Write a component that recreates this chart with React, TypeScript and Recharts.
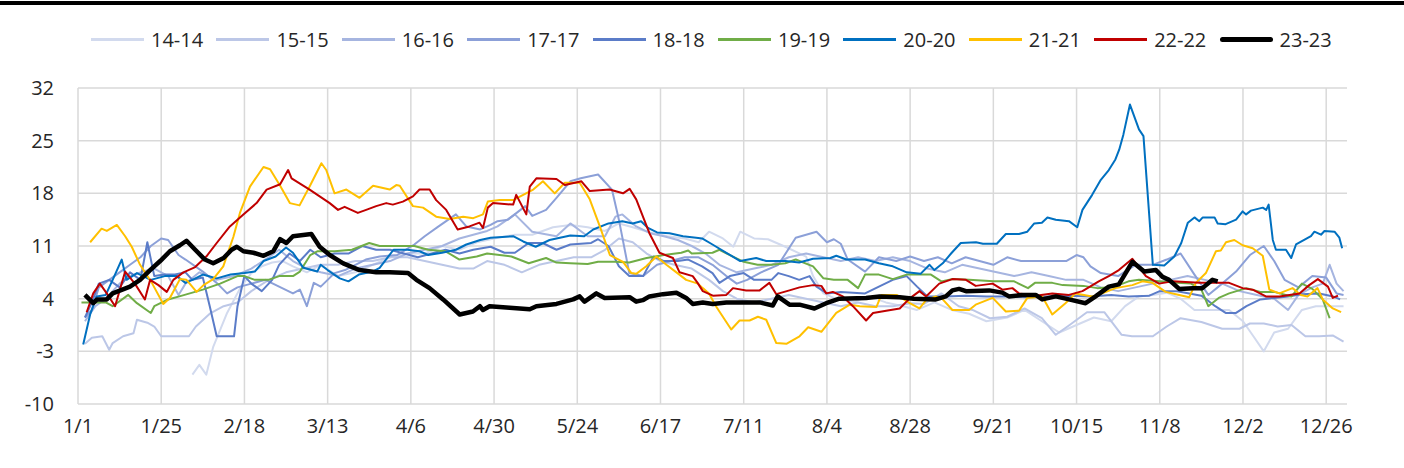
import React from 'react';
import { LineChart, Line, XAxis, YAxis, CartesianGrid } from 'recharts';

// x = day of year (0 = 1/1), y = value
const TICK_DAYS = [0, 24, 48, 72, 96, 120, 144, 168, 192, 216, 240, 264, 288, 312, 336, 360];
const TICK_LABELS = ['1/1', '1/25', '2/18', '3/13', '4/6', '4/30', '5/24', '6/17', '7/11', '8/4', '8/28', '9/21', '10/15', '11/8', '12/2', '12/26'];
const Y_TICKS = [-10, -3, 4, 11, 18, 25, 32];
const X_MAX = 366;

const S14: [number, number][] = [
  [33, -6.1], [35, -4.8], [37, -6.1], [39, -2.4], [43, 2.1], [47, 5.6], [50, 7.4], [53, 8.3], [56, 8.8], [59, 9.0],
  [62, 8.3], [66, 7.5], [70, 8.5], [75, 7.0], [80, 7.5], [85, 8.5], [90, 9.5], [95, 10.0], [100, 10.0], [105, 11.0],
  [110, 10.5], [115, 11.5], [120, 12.0], [126, 12.5], [131, 12.5], [137, 13.5], [142, 13.8], [147, 13.5], [152, 13.0],
  [156, 14.0], [160, 13.5], [165, 12.8], [170, 12.3], [175, 12.0], [179, 11.5], [182, 12.9], [186, 12.0], [189, 10.9],
  [191, 12.9], [195, 12.0], [199, 11.9], [204, 10.9], [210, 9.6], [212, 7.0], [215, 4.7], [219, 3.9], [224, 3.6],
  [228, 4.3], [233, 3.5], [238, 3.0], [242, 2.5], [247, 3.5], [252, 2.5], [257, 2.0], [262, 1.0], [268, 1.5], [273, 2.5],
  [278, 1.0], [283, -0.5], [288, 0.5], [293, 1.5], [298, 1.0], [302, 3.0], [306, 4.3], [310, 4.5], [314, 4.8], [318, 4.0],
  [322, 2.5], [327, 2.5], [332, 2.5], [336, 1.0], [339, -1.0], [342, -3.0], [345, -0.5], [349, 0.0], [353, 2.5],
  [357, 3.0], [361, 3.0], [365, 3.0],
];

const S15: [number, number][] = [
  [2, -2.0], [4, -1.2], [7, -1.0], [9, -2.8], [10, -1.9], [13, -1.0], [16, -0.6], [17, 1.2], [20, 0.8], [22, 0.3],
  [24, -1.0], [28, -1.0], [32, -1.0], [34, 0.3], [38, 2.0], [42, 3.0], [46, 3.5], [50, 5.0], [55, 6.5], [60, 7.5],
  [65, 8.0], [70, 8.5], [75, 8.5], [80, 9.0], [85, 9.0], [90, 9.5], [95, 9.5], [100, 9.0], [105, 8.5], [110, 8.0],
  [114, 8.0], [118, 9.0], [123, 8.5], [128, 7.5], [133, 8.5], [138, 9.0], [143, 9.5], [148, 9.5], [152, 10.5],
  [156, 12.0], [160, 11.5], [164, 10.0], [168, 9.0], [172, 8.5], [177, 8.0], [182, 6.5], [186, 5.0], [190, 4.0],
  [195, 3.5], [200, 4.0], [205, 4.5], [210, 4.0], [215, 3.5], [220, 3.0], [225, 3.5], [230, 3.0], [235, 3.0], [240, 3.4],
  [244, 3.3], [249, 4.7], [254, 3.0], [258, 2.5], [263, 1.4], [268, 1.6], [273, 2.7], [278, 1.4], [282, -0.8], [286, 0.5],
  [291, 2.2], [296, 2.2], [301, -0.8], [304, -1.0], [310, -1.0], [314, 0.3], [318, 1.4], [324, 0.9], [330, 0.0],
  [335, 0.0], [338, 0.7], [342, 0.7], [346, 0.3], [350, 0.5], [354, -1.0], [358, -1.0], [362, -0.9], [365, -1.7],
];

const S16: [number, number][] = [
  [2, 1.0], [5, 3.0], [8, 4.0], [12, 6.0], [15, 7.0], [18, 7.5], [22, 8.0], [26, 7.0], [29, 4.5], [31, 6.0], [35, 7.5],
  [40, 6.5], [45, 7.0], [50, 8.0], [55, 9.5], [58, 10.5], [62, 9.0], [66, 8.0], [70, 7.5], [75, 7.0], [80, 8.0],
  [85, 8.5], [90, 9.0], [95, 10.0], [100, 10.5], [105, 11.0], [110, 12.0], [114, 12.5], [118, 13.0], [121, 13.6],
  [126, 15.2], [131, 12.9], [138, 12.3], [142, 14.0], [147, 12.3], [152, 12.3], [155, 14.9], [157, 15.2], [161, 13.6],
  [165, 12.7], [169, 12.3], [173, 11.8], [177, 11.0], [181, 10.0], [185, 8.5], [190, 7.5], [195, 8.0], [200, 8.5],
  [205, 9.5], [210, 10.0], [215, 9.5], [220, 9.0], [225, 9.5], [230, 9.0], [235, 9.5], [240, 9.0], [245, 8.0],
  [250, 7.5], [255, 8.5], [260, 8.0], [265, 7.5], [270, 7.0], [275, 7.5], [280, 7.0], [285, 6.5], [290, 6.5], [295, 5.5],
  [300, 5.0], [305, 5.5], [310, 6.0], [315, 6.5], [320, 7.0], [325, 6.5], [330, 6.0], [335, 5.0], [340, 4.5], [345, 4.0],
  [349, 2.5], [352, 4.5], [356, 5.5], [359, 6.0], [361, 8.5], [363, 6.0], [365, 5.0],
];

const S17: [number, number][] = [
  [2, 1.5], [4, 2.5], [6, 5.5], [9, 6.5], [12, 7.5], [15, 8.5], [18, 9.5], [21, 11.0], [24, 12.0], [26, 11.8], [29, 9.8],
  [31, 9.2], [36, 7.6], [40, 6.1], [43, 4.7], [46, 5.5], [50, 6.0], [54, 6.5], [58, 5.6], [62, 4.7], [64, 5.2], [66, 3.0],
  [68, 6.1], [70, 5.6], [72, 6.5], [74, 7.4], [77, 7.8], [83, 9.2], [87, 9.6], [92, 9.8], [97, 11.2], [100, 12.3],
  [104, 13.6], [109, 15.2], [112, 13.6], [116, 13.2], [119, 13.8], [121, 14.3], [124, 14.5], [129, 16.3], [131, 15.0],
  [135, 15.8], [138, 17.4], [142, 19.6], [145, 20.0], [148, 20.3], [150, 20.5], [154, 18.5], [156, 14.5], [159, 7.4],
  [163, 7.0], [167, 8.5], [171, 9.0], [175, 9.5], [179, 9.5], [183, 8.5], [187, 7.0], [190, 6.0], [193, 6.5], [197, 7.5],
  [202, 8.5], [207, 12.1], [213, 12.9], [216, 11.5], [218, 11.9], [220, 11.3], [222, 9.2], [227, 7.6], [231, 9.5],
  [236, 9.0], [240, 9.6], [244, 9.0], [248, 9.5], [252, 8.7], [256, 9.5], [260, 9.0], [264, 8.5], [268, 9.5], [272, 9.0],
  [276, 9.0], [280, 9.0], [285, 9.0], [288, 9.8], [290, 9.5], [292, 8.3], [295, 7.4], [300, 7.0], [305, 8.5], [310, 8.5],
  [314, 9.2], [318, 10.0], [322, 7.2], [326, 4.5], [330, 6.0], [334, 7.6], [338, 9.8], [342, 11.0], [345, 9.0],
  [348, 6.5], [352, 5.5], [356, 7.0], [360, 6.8], [363, 4.7], [365, 4.5],
];

const S18: [number, number][] = [
  [2, 1.5], [4, 3.5], [6, 6.0], [9, 6.5], [12, 5.5], [15, 7.5], [18, 6.5], [20, 11.5], [22, 7.0], [25, 7.2], [28, 7.2],
  [31, 7.5], [33, 6.5], [36, 6.8], [38, 3.0], [40, -1.0], [45, -1.0], [46, 3.0], [48, 7.0], [50, 6.0], [53, 5.0],
  [56, 6.5], [58, 8.5], [61, 10.0], [64, 9.0], [67, 10.5], [70, 9.5], [74, 10.0], [78, 10.0], [82, 11.0], [86, 10.5],
  [90, 10.5], [94, 10.0], [98, 9.5], [102, 10.0], [106, 10.5], [110, 10.0], [114, 10.5], [119, 10.9], [123, 10.1],
  [126, 10.1], [130, 11.4], [134, 11.4], [138, 10.5], [142, 11.2], [148, 11.4], [150, 11.9], [153, 11.0], [156, 8.3],
  [159, 7.0], [163, 7.0], [166, 9.6], [169, 9.0], [173, 9.0], [176, 9.2], [180, 8.3], [183, 7.4], [185, 6.1], [188, 7.0],
  [192, 7.4], [195, 6.5], [200, 6.5], [202, 7.4], [205, 7.0], [208, 6.5], [211, 7.0], [213, 5.6], [216, 4.7], [220, 4.9],
  [227, 4.7], [231, 5.6], [235, 6.5], [239, 7.0], [242, 5.6], [245, 4.3], [250, 4.3], [256, 4.4], [262, 4.3], [268, 4.3],
  [274, 4.2], [280, 4.3], [286, 4.4], [292, 4.3], [298, 4.5], [303, 4.3], [309, 4.4], [312, 5.0], [317, 5.0], [324, 4.4],
  [328, 3.0], [331, 2.1], [334, 2.1], [337, 3.0], [341, 3.9], [345, 4.1], [349, 4.3], [353, 4.6], [358, 4.7], [362, 4.3],
  [364, 3.9],
];

const S19: [number, number][] = [
  [1, 3.5], [8, 3.5], [10, 3.0], [14.5, 4.5], [17, 3.4], [21, 2.1], [22, 3.0], [26, 3.9], [30, 4.4], [36, 5.2], [41, 6.0],
  [46, 7.0], [48, 7.0], [51, 6.5], [55, 6.5], [58, 7.0], [62, 7.0], [64, 7.6], [67, 9.8], [69, 10.3], [74, 10.3],
  [79, 10.5], [84, 11.4], [87, 11.0], [91, 11.0], [97, 11.0], [101, 10.5], [106, 10.3], [110, 9.2], [115, 9.6],
  [118, 10.0], [125, 9.6], [130, 8.7], [135, 9.4], [138, 8.8], [142, 8.7], [147, 8.6], [150, 8.9], [155, 8.9], [159, 8.8],
  [164, 9.4], [169, 9.8], [174, 10.1], [176, 10.4], [177, 10.0], [183, 10.1], [185, 10.5], [188, 9.8], [192, 8.9],
  [196, 8.5], [200, 8.5], [204, 8.7], [207, 9.2], [212, 8.3], [215, 6.7], [218, 6.5], [222, 6.5], [225, 5.4], [227, 7.2],
  [231, 7.2], [235, 6.6], [239, 7.2], [242, 7.2], [246, 7.2], [249, 6.3], [252, 6.6], [257, 6.5], [264, 6.3], [270, 6.3],
  [274, 5.4], [276, 6.1], [281, 6.1], [284, 5.8], [290, 5.7], [294, 5.4], [299, 5.6], [303, 6.3], [306, 6.5], [312, 6.3],
  [317, 6.1], [321, 6.0], [324, 5.2], [326, 3.0], [329, 4.1], [332, 4.7], [337, 5.4], [341, 4.9], [345, 4.9], [350, 4.3],
  [353, 6.0], [356, 5.3], [359, 3.9], [361, 1.4],
];

const S20: [number, number][] = [
  [1.5, -2.1], [3.5, 1.9], [5.4, 4.3], [8, 4.5], [10, 6.5], [12.6, 9.2], [14, 6.5], [17, 7.4], [21, 6.5], [25, 7.0],
  [28.5, 7.0], [31, 6.1], [33, 6.5], [36, 7.2], [40, 6.7], [44, 7.2], [48, 7.4], [51, 7.6], [53.5, 9.0], [57, 9.6],
  [60, 10.8], [62, 10.1], [65, 8.1], [69, 7.6], [70, 8.5], [72, 7.8], [75.5, 6.7], [78, 6.3], [81, 7.2], [85, 7.6],
  [87, 8.1], [91, 10.5], [95, 10.5], [98.5, 10.3], [101, 9.8], [105, 10.1], [109, 10.5], [112, 11.2], [116, 11.8],
  [119, 12.1], [125.5, 12.3], [128.4, 11.6], [132, 10.9], [136, 11.8], [142, 12.4], [146, 12.3], [148.6, 13.2],
  [153, 14.0], [157, 14.3], [160, 14.0], [162.4, 14.3], [164.4, 13.4], [167, 12.8], [170.6, 12.7], [174.5, 12.3],
  [178.3, 12.1], [180, 12.0], [183, 11.2], [187, 10.1], [191, 9.0], [195.6, 9.4], [198.5, 9.0], [204, 9.0], [208, 8.8],
  [212, 9.3], [217, 9.4], [218.7, 9.7], [221.6, 9.2], [227, 9.2], [231, 8.7], [235, 8.3], [239, 7.5], [243, 7.3],
  [245.6, 8.5], [247, 7.8], [249.4, 8.7], [252, 10.1], [254.6, 11.4], [259, 11.5], [261, 11.3], [265, 11.3], [267.6, 12.6],
  [271.4, 12.6], [273.8, 12.9], [275.8, 14.0], [278, 14.1], [279.6, 14.8], [282, 14.5], [285.8, 14.3], [288.2, 13.5],
  [289.7, 15.8], [292.5, 17.8], [295, 19.8], [297.3, 21.1], [299.2, 22.5], [300.3, 23.8], [301.5, 25.8], [303.4, 29.8],
  [306, 26.5], [307.3, 25.6], [310, 8.5], [313.3, 8.4], [316.2, 9.6], [318.2, 11.4], [320.1, 14.1], [322, 14.8],
  [323.4, 14.3], [324.4, 14.8], [327.8, 14.8], [328.7, 14.0], [331, 13.9], [334, 14.5], [335.9, 15.6], [336.9, 15.2],
  [338.3, 15.7], [341.7, 16.1], [342.7, 15.8], [343.4, 16.5], [344.6, 11.8], [345.5, 10.5], [348.4, 10.5], [349.9, 9.4],
  [351.3, 11.2], [355.6, 12.3], [356.6, 12.9], [358.5, 12.5], [359.5, 13.0], [362.4, 12.9], [363.8, 12.1], [364.6, 10.7],
];

const S21: [number, number][] = [
  [3.5, 11.5], [6.8, 13.3], [8.3, 13.0], [11.2, 13.8], [13.6, 12.3], [15.5, 10.9], [17.9, 8.5], [21.3, 6.1], [24.6, 3.3],
  [26.5, 4.1], [29.4, 6.6], [31.3, 6.5], [34.2, 4.9], [36.2, 5.8], [39, 6.6], [41.9, 8.3], [44.8, 12.2], [46.7, 15.4],
  [49.6, 18.9], [53.5, 21.5], [55.4, 21.2], [58.3, 19.0], [61.1, 16.7], [63.9, 16.4], [66.8, 18.9], [70.2, 22.0],
  [71.6, 21.1], [74, 18.0], [77.4, 18.5], [81.2, 17.4], [85.1, 19.0], [89.9, 18.5], [91.8, 19.1], [92.8, 19.0],
  [96.6, 16.3], [99.5, 16.1], [103.3, 14.9], [107.2, 14.6], [111.1, 14.9], [114, 14.7], [116.8, 15.2], [118.2, 16.9],
  [121.6, 17.1], [125.5, 17.1], [128.4, 17.8], [131.3, 18.5], [134.1, 19.6], [137.5, 18.0], [140.4, 19.4], [144.7, 19.4],
  [147.6, 17.2], [150.5, 13.6], [153.4, 9.8], [157.2, 8.9], [159.6, 7.4], [161, 7.3], [163.9, 8.3], [166.8, 9.6],
  [169.7, 8.5], [172.6, 7.5], [175.4, 6.5], [178.8, 6.0], [180.2, 5.4], [182, 4.7], [184, 3.0], [188.4, -0.1],
  [190.8, 1.1], [193.7, 1.1], [196.1, 1.6], [198.5, 1.2], [201.4, -1.9], [204.3, -2.0], [208.1, -1.0], [210.6, 0.2],
  [214.4, -0.4], [218.7, 2.1], [222.6, 3.2], [225.5, 3.0], [230.3, 2.9], [231.7, 4.5], [236.1, 4.5], [239.9, 3.4],
  [242.7, 2.7], [244.6, 3.8], [247.4, 4.3], [249.4, 3.9], [252.2, 2.5], [257, 2.5], [258.9, 3.2], [263.8, 4.1],
  [267.6, 2.3], [271.4, 2.4], [273.8, 4.1], [278.1, 4.3], [281, 1.9], [284.8, 3.4], [287.7, 4.7], [292.5, 4.3],
  [295.4, 4.7], [299.2, 5.4], [304.1, 5.8], [307, 6.3], [309.9, 6.1], [313.7, 4.9], [317.6, 4.5], [320.5, 4.2],
  [322.4, 6.1], [325.3, 7.4], [328.2, 10.3], [329.6, 10.4], [331.1, 11.5], [333.5, 11.8], [335.9, 11.1], [338.8, 10.7],
  [341.7, 9.7], [343.6, 5.2], [346.5, 4.7], [350.3, 5.4], [352.7, 4.5], [354.6, 4.3], [357.5, 5.4], [359, 3.9],
  [361.9, 2.7], [364.3, 2.2],
];

const S22: [number, number][] = [
  [2.5, 2.2], [4.4, 4.7], [6.3, 6.0], [8.3, 4.7], [10.7, 3.0], [13.6, 7.6], [16.4, 6.0], [19.3, 3.9], [20.8, 6.5],
  [23.2, 5.8], [25.6, 4.9], [27.5, 6.5], [30.4, 7.5], [33.8, 8.2], [37, 9.6], [40, 11.4], [43.8, 13.6], [47.7, 15.2],
  [51.5, 16.7], [54.4, 18.5], [58.3, 19.2], [60.6, 21.1], [61.6, 20.0], [66.8, 18.5], [69.7, 17.6], [72.6, 16.7],
  [75, 15.8], [76.9, 16.2], [80.7, 15.4], [83.1, 15.8], [86, 16.3], [88.9, 16.7], [90.8, 16.5], [93.7, 16.9],
  [96.6, 17.6], [98.5, 18.5], [101.4, 18.5], [103.3, 17.1], [106.2, 15.8], [109.5, 13.2], [112.9, 13.6], [115.8, 14.1],
  [116.8, 13.4], [118.2, 16.1], [119.7, 16.7], [125.5, 16.5], [126.4, 17.8], [129.3, 15.2], [130.3, 18.9], [132.2, 20.0],
  [138, 19.9], [140.4, 19.1], [145.2, 19.6], [147.6, 18.3], [153.3, 18.5], [157.2, 18.0], [159.1, 18.6], [161, 17.2],
  [164.8, 12.7], [167.7, 10.1], [171.6, 9.4], [173.5, 7.5], [177.3, 7.0], [178.7, 6.1], [180.2, 5.0], [183.1, 4.4],
  [187, 4.5], [188.9, 5.4], [192.7, 5.1], [196.6, 5.1], [199.4, 6.1], [201.4, 4.6], [205.2, 5.1], [208.1, 5.5],
  [212, 5.8], [214.4, 5.7], [215.8, 4.7], [217.7, 4.9], [220.6, 4.3], [223.5, 3.0], [227.3, 1.1], [229.3, 2.1],
  [233.1, 2.4], [237, 2.7], [239.8, 4.0], [242.7, 5.0], [244.6, 4.3], [248.4, 6.0], [252.2, 6.6], [256.1, 6.5],
  [258.9, 5.7], [263.8, 6.0], [266.6, 5.2], [269.5, 5.4], [271.4, 4.7], [276.2, 4.4], [281, 4.7], [285.8, 4.5],
  [289.7, 5.0], [294.4, 6.3], [297.3, 7.0], [300.2, 7.8], [304.1, 9.3], [308, 7.0], [311.8, 6.0], [315.6, 6.3],
  [319.5, 6.2], [323.4, 6.1], [327.2, 6.1], [332, 6.1], [335.9, 5.4], [338.8, 5.2], [342.6, 4.3], [346.5, 4.3],
  [352.3, 4.7], [355.1, 5.8], [357.6, 6.6], [360.5, 5.6], [361.9, 4.1], [363.4, 4.4],
];

const S23: [number, number][] = [
  [2, 4.5], [4.4, 3.4], [5.5, 3.9], [8.3, 3.9], [10, 4.7], [15, 5.6], [17.9, 6.5], [20.8, 7.8], [23.7, 9.0], [26.5, 10.3],
  [29.4, 11.1], [31.3, 11.7], [33.8, 10.5], [36.6, 9.2], [39, 8.7], [42, 9.4], [44.3, 10.5], [45.8, 10.9], [47.7, 10.3],
  [50.6, 10.1], [53.5, 9.7], [56.3, 10.3], [58.3, 11.9], [60.1, 11.4], [62, 12.3], [67.3, 12.6], [69.7, 10.9],
  [72.6, 9.8], [76.5, 8.7], [81.2, 7.8], [86, 7.5], [89.9, 7.5], [95.2, 7.4], [97.6, 6.5], [101.4, 5.4], [105.3, 3.9],
  [110.1, 1.9], [113.9, 2.3], [115.9, 3.0], [116.8, 2.5], [118.7, 3.0], [124.5, 2.8], [130.3, 2.6], [132.2, 3.0],
  [138, 3.3], [142.8, 3.9], [144.7, 4.3], [146.1, 3.6], [149.5, 4.7], [151.9, 4.1], [159.1, 4.2], [161, 3.6],
  [162.9, 3.8], [164.8, 4.3], [168.7, 4.6], [172.6, 4.8], [175.4, 4.1], [177.3, 3.3], [180.2, 3.5], [183.1, 3.3],
  [187, 3.5], [192.7, 3.5], [196.6, 3.5], [200.4, 3.1], [201.8, 4.3], [205.2, 3.2], [208.1, 3.2], [212.4, 2.7],
  [215.8, 3.4], [219.6, 4.0], [227.3, 4.1], [231.2, 4.3], [237, 4.2], [241, 4.0], [247.4, 3.9], [250.3, 4.3],
  [252.2, 5.1], [254.1, 5.3], [256.1, 5.0], [262.8, 5.1], [266.6, 4.8], [268.5, 4.3], [272.4, 4.5], [276.2, 4.5],
  [278.1, 3.9], [282, 4.3], [285.8, 3.9], [290.6, 3.4], [293.5, 4.3], [297.3, 5.6], [300.2, 5.9], [304.1, 8.9],
  [307.5, 7.6], [310.9, 7.8], [312.8, 6.9], [314.7, 6.5], [317.6, 5.3], [321.5, 5.4], [324.3, 5.4], [327.2, 6.5],
  [328.7, 6.3],
];

const SERIES = [
  { key: 's14', name: '14-14', color: '#D2DAEE', width: 2, data: S14 },
  { key: 's15', name: '15-15', color: '#BCC7E7', width: 2, data: S15 },
  { key: 's16', name: '16-16', color: '#A6B5E0', width: 2, data: S16 },
  { key: 's17', name: '17-17', color: '#8CA0D8', width: 2, data: S17 },
  { key: 's18', name: '18-18', color: '#5B7CC8', width: 2, data: S18 },
  { key: 's19', name: '19-19', color: '#70AD47', width: 2, data: S19 },
  { key: 's20', name: '20-20', color: '#0070C0', width: 2, data: S20 },
  { key: 's21', name: '21-21', color: '#FFC000', width: 2, data: S21 },
  { key: 's22', name: '22-22', color: '#C00000', width: 2, data: S22 },
  { key: 's23', name: '23-23', color: '#000000', width: 4.5, data: S23 },
];

const buildRows = () => {
  const byDay = new Map<number, Record<string, number>>();
  SERIES.forEach((s) => {
    s.data.forEach(([d, v]) => {
      const row = byDay.get(d) || { d };
      row[s.key] = v;
      byDay.set(d, row);
    });
  });
  return Array.from(byDay.values()).sort((a, b) => a.d - b.d);
};

const FONT = '"Open Sans", "Liberation Sans", sans-serif';
const TEXT = '#262626';
const GRID = '#D9D9D9';

const ChartLegend = () => (
  <div style={{ position: 'absolute', top: 26, left: 91, display: 'flex', fontFamily: FONT, fontSize: 20, color: TEXT }}>
    {SERIES.map((s) => (
      <div key={s.key} style={{ width: 125.4, display: 'flex', alignItems: 'center', height: 26 }}>
        <span style={{
          display: 'inline-block',
          width: 53,
          height: s.width > 3 ? 5 : 3,
          borderRadius: s.width > 3 ? 3 : 0,
          background: s.color,
          marginRight: 7,
        }} />
        <span>{s.name}</span>
      </div>
    ))}
  </div>
);

// vertical grid only at the date ticks (no border on the right)
const verticalGrid = (props: any) => {
  const { xAxis, offset } = props;
  if (xAxis && typeof xAxis.scale === 'function') return TICK_DAYS.map((d) => xAxis.scale(d));
  return TICK_DAYS.map((d) => offset.left + (d / X_MAX) * offset.width);
};

const App = () => {
  const rows = buildRows();
  return (
    <div style={{ position: 'absolute', left: 0, top: 0, width: 1404, height: 468, background: '#fff', overflow: 'hidden' }}>
      <div style={{ position: 'absolute', left: 0, top: 1, width: 1404, height: 4, background: '#000' }} />
      <ChartLegend />
      <LineChart width={1404} height={468} data={rows} margin={{ top: 88, right: 57, left: 0, bottom: 34 }}>
        <CartesianGrid stroke={GRID} strokeWidth={1.5} verticalCoordinatesGenerator={verticalGrid} />
        <XAxis
          dataKey="d"
          type="number"
          domain={[0, X_MAX]}
          ticks={TICK_DAYS}
          tickFormatter={(v: number) => TICK_LABELS[TICK_DAYS.indexOf(v)] ?? ''}
          axisLine={false}
          tickLine={false}
          tickSize={0}
          tickMargin={15}
          height={30}
          interval={0}
          tick={{ fill: TEXT, fontSize: 20, fontFamily: FONT }}
        />
        <YAxis
          type="number"
          domain={[-10, 32]}
          ticks={Y_TICKS}
          axisLine={false}
          tickLine={false}
          tickSize={0}
          tickMargin={24}
          width={78}
          interval={0}
          tick={{ fill: TEXT, fontSize: 20, fontFamily: FONT }}
        />
        {SERIES.map((s) => (
          <Line
            key={s.key}
            dataKey={s.key}
            name={s.name}
            stroke={s.color}
            strokeWidth={s.width}
            dot={false}
            activeDot={false}
            connectNulls
            strokeLinejoin="round"
            isAnimationActive={false}
          />
        ))}
      </LineChart>
    </div>
  );
};

export default App;
